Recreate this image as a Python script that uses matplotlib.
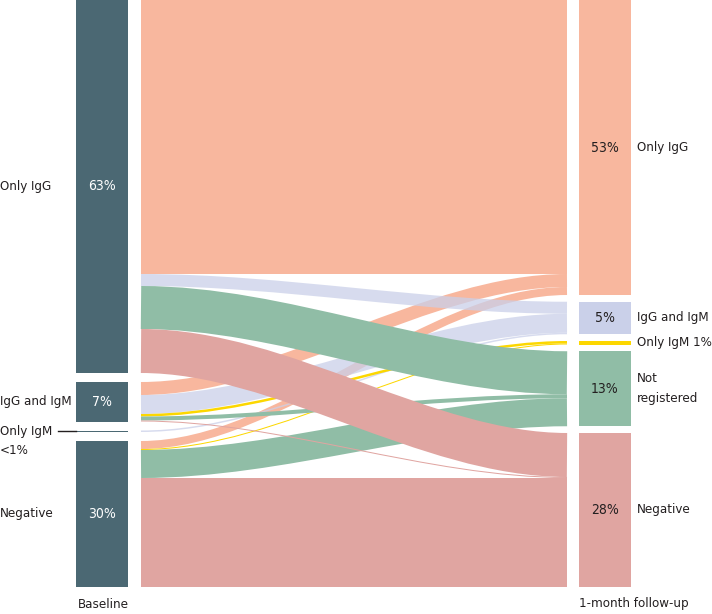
import numpy as np
import matplotlib.pyplot as plt
from matplotlib.patches import Rectangle, PathPatch
from matplotlib.path import Path

plt.rcParams['font.family'] = ['DejaVu Sans']
plt.rcParams['font.stretch'] = 'condensed'

## Kategorie po lewej (baseline) i po prawej (1-month follow-up)
sources = ['Only IgG', 'IgG and IgM', 'Only IgM', 'Negative']
targets = ['Only IgG', 'IgG and IgM', 'Only IgM', 'Not registered', 'Negative']

## Przepływy: wiersz = źródło, kolumna = cel
flows = np.array([
    [274, 12, 0, 43, 44],
    [13, 19, 2.5, 4, 1],
    [0, 1.5, 0, 0, 0],
    [8, 0, 1, 28, 109],
])

left_pct = ['63%', '7%', '', '30%']
right_pct = ['53%', '5%', '', '13%', '28%']
left_labels = ['Only IgG', 'IgG and IgM', 'Only IgM', 'Negative']
right_labels = ['Only IgG', 'IgG and IgM', 'Only IgM 1%', 'Not\nregistered', 'Negative']

target_colors = ['#f8b79e', '#cad0e9', '#fcd700', '#90bda6', '#e0a5a1']
target_alpha = [1, 0.75, 1, 1, 1]
base_color = '#4b6873'
text_color = '#231f20'
fs = 9.5

## Układ (w pikselach)
H = 587
lx0, lx1 = 76, 128
fx0, fx1 = 141, 567
rx0, rx1 = 579, 631
dpi = 100

fig = plt.figure(figsize=(7.12, 6.14), dpi=dpi)
ax = fig.add_axes([0, 0, 1, 1])
ax.set_xlim(0, 712)
ax.set_ylim(614, 0)
ax.axis('off')

src_tot = flows.sum(axis=1)
tgt_tot = flows.sum(axis=0)
lgap = (H - src_tot.sum()) / (len(sources) - 1)
rgap = (H - tgt_tot.sum()) / (len(targets) - 1)
src_y = np.concatenate([[0], np.cumsum(src_tot + lgap)[:-1]])
tgt_y = np.concatenate([[0], np.cumsum(tgt_tot + rgap)[:-1]])

## Wstęgi jako grube krzywe Beziera (szerokość = wartość przepływu)
xa = fx0 + (fx1 - fx0) / 3
xb = fx0 + 2 * (fx1 - fx0) / 3
src_off = src_y.copy()
tgt_off = tgt_y.copy()
ribbons = []
for i in range(len(sources)):
    for j in range(len(targets)):
        v = flows[i, j]
        if v <= 0:
            continue
        ya = src_off[i] + v / 2
        yb = tgt_off[j] + v / 2
        ribbons.append((j, v, ya, yb))
        src_off[i] += v
        tgt_off[j] += v
## kolejność rysowania wg celu (Negative na wierzchu)
for j, v, ya, yb in sorted(ribbons, key=lambda r: r[0]):
    path = Path([(fx0, ya), (xa, ya), (xb, yb), (fx1, yb)],
                [Path.MOVETO, Path.CURVE4, Path.CURVE4, Path.CURVE4])
    ax.add_patch(PathPatch(path, fill=False, edgecolor=target_colors[j],
                           alpha=target_alpha[j], lw=v * 72 / dpi,
                           capstyle='butt', zorder=1 + j))

## Słupki
for i in range(len(sources)):
    ax.add_patch(Rectangle((lx0, src_y[i]), lx1 - lx0, src_tot[i], color=base_color, lw=0))
    cy = src_y[i] + src_tot[i] / 2
    if left_pct[i]:
        ax.text((lx0 + lx1) / 2, cy, left_pct[i], color='white', fontsize=10,
                ha='center', va='center')
for j in range(len(targets)):
    ax.add_patch(Rectangle((rx0, tgt_y[j]), rx1 - rx0, tgt_tot[j], color=target_colors[j], lw=0))
    cy = tgt_y[j] + tgt_tot[j] / 2
    if right_pct[j]:
        ax.text((rx0 + rx1) / 2, cy, right_pct[j], color=text_color, fontsize=10,
                ha='center', va='center')
    ax.text(637, cy, right_labels[j], color=text_color, fontsize=fs,
            ha='left', va='center', linespacing=1.7)

## Etykiety po lewej
for i in [0, 1, 3]:
    cy = src_y[i] + src_tot[i] / 2
    ax.text(0, cy, left_labels[i], color=text_color, fontsize=fs, ha='left', va='center')
cy = src_y[2] + src_tot[2] / 2
ax.plot([58, lx0], [cy, cy], color=text_color, lw=1)
ax.text(0, cy, left_labels[2], color=text_color, fontsize=fs, ha='left', va='center')
ax.text(0, cy + 19, '<1%', color=text_color, fontsize=fs, ha='left', va='center')

ax.text(78, 604, 'Baseline', color=text_color, fontsize=fs, ha='left', va='center')
ax.text(579, 604, '1-month follow-up', color=text_color, fontsize=fs, ha='left', va='center')

fig.savefig('out.png', dpi=dpi)
